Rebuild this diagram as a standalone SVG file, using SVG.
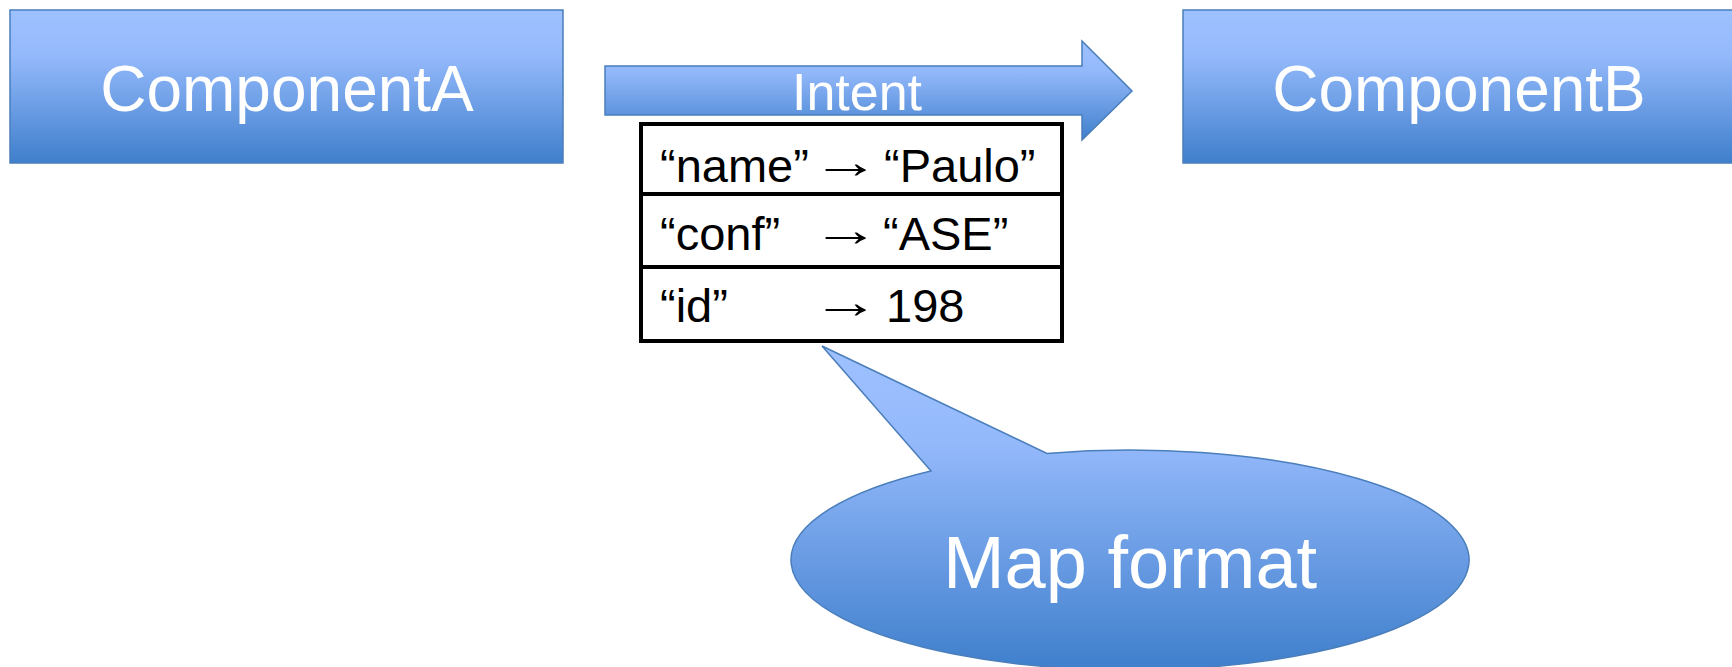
<svg xmlns="http://www.w3.org/2000/svg" width="1732" height="667" viewBox="0 0 1732 667">
  <defs>
    <linearGradient id="blueFill" x1="0" y1="0" x2="0" y2="1">
      <stop offset="0" stop-color="#9ec1ff"/>
      <stop offset="0.3" stop-color="#94b9fb"/>
      <stop offset="1" stop-color="#3f7fcc"/>
    </linearGradient>
    <style>
      .shape { fill: url(#blueFill); stroke: #4a7ebb; stroke-width: 1.5; }
      .label { fill: #ffffff; font-family: "Liberation Sans", Arial, sans-serif; text-anchor: middle; }
      .cell { fill: #000000; font-family: "Liberation Sans", Arial, sans-serif; font-size: 47px; }
      .grid { fill: #ffffff; stroke: #000000; stroke-width: 4; }
      .rule { stroke: #000000; stroke-width: 4; }
    </style>
  </defs>

  <rect width="1732" height="667" fill="#ffffff"/>

  <!-- Intent arrow between the two components -->
  <g id="connectors">
    <path id="intent-arrow" class="shape" d="M605,66 H1082 V41 L1132,91 L1082,140 V115 H605 Z"/>
    <text class="label" x="857" y="110" font-size="52">Intent</text>
  </g>

  <g id="componentA">
    <rect class="shape" x="10" y="10" width="553" height="153"/>
    <text class="label" x="287" y="111" font-size="64">ComponentA</text>
  </g>

  <g id="componentB">
    <rect class="shape" x="1183" y="10" width="560" height="153"/>
    <text class="label" x="1459" y="111" font-size="64">ComponentB</text>
  </g>

  <!-- Extras map carried by the intent -->
  <g id="extras-table">
    <rect class="grid" x="641" y="124" width="421" height="217"/>
    <line class="rule" x1="641" y1="194" x2="1062" y2="194"/>
    <line class="rule" x1="641" y1="267" x2="1062" y2="267"/>
    <text class="cell" x="660" y="182">“name”</text>
    <text class="cell" transform="translate(812,178) scale(1.45,1)">→</text>
    <text class="cell" x="884" y="182">“Paulo”</text>
    <text class="cell" x="660" y="250">“conf”</text>
    <text class="cell" transform="translate(812,246) scale(1.45,1)">→</text>
    <text class="cell" x="883" y="250">“ASE”</text>
    <text class="cell" x="660" y="322">“id”</text>
    <text class="cell" transform="translate(812,318) scale(1.45,1)">→</text>
    <text class="cell" x="886" y="322">198</text>
  </g>

  <!-- Speech bubble pointing at the table -->
  <g id="map-format-callout">
    <path class="shape" d="M931,471 L822,346 L1047,453.4 A339,110 0 1 1 931,471 Z"/>
    <text class="label" x="1130" y="588" font-size="74">Map format</text>
  </g>
</svg>
